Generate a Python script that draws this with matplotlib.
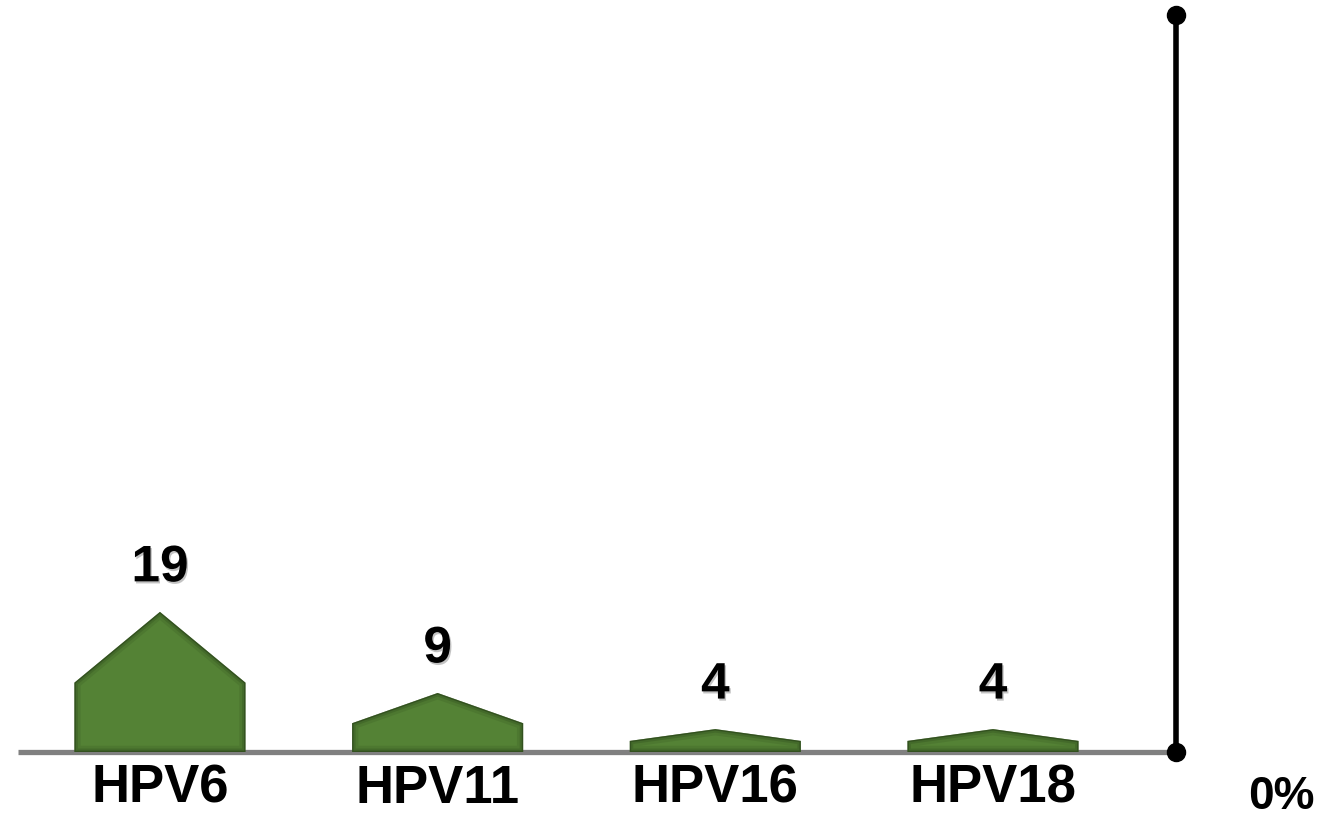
import matplotlib.pyplot as plt
import matplotlib.patheffects as pe

# data
categories = ['HPV6', 'HPV11', 'HPV16', 'HPV18']
value_labels = ['19', '9', '4', '4']
heights = [19.0, 8.0, 3.1, 3.1]      # drawn height of each house-shaped bar (%)
shoulders = [9.4, 3.9, 1.5, 1.5]     # height where the roof starts (%)
axis_label = '0%'
axis_top = 100

fig = plt.figure(figsize=(13.24, 8.17), dpi=100)
ax = fig.add_axes([0, 0, 1, 1])
ax.set_xlim(-0.576, 4.192)
ax.set_ylim(-8.82, 102.0)
ax.axis('off')

green = '#548235'
bar_w = 0.616
axis_x = 3.658

# baseline
ax.plot([-0.511, axis_x], [0, 0], color='#808080', lw=3.8, zorder=1, solid_capstyle='butt')

# house shaped bars
for i, (h, s) in enumerate(zip(heights, shoulders)):
    xl, xr = i - bar_w / 2, i + bar_w / 2
    xs = [xl, xl, i, xr, xr]
    ys = [0, s, h, s, 0]
    poly = ax.fill(xs, ys, color=green, ec='none', zorder=2)[0]
    # soft dark inner edge
    for lw, a in [(9, 0.12), (5, 0.2), (2, 0.45)]:
        rim = ax.fill(xs, ys, fc='none', ec='#1f3312', lw=lw, alpha=a, zorder=2.5)[0]
        rim.set_clip_path(poly)
    ax.annotate(value_labels[i], (i, h), xytext=(0, 22), textcoords='offset points',
                ha='center', va='baseline', fontsize=37, fontweight='bold',
                family='Liberation Sans', zorder=4,
                path_effects=[pe.withSimplePatchShadow(offset=(1, -1.5), shadow_rgbFace='#888888', alpha=0.5)])
    ax.text(i, -6.88, categories[i], ha='center', va='baseline', fontsize=38,
            fontweight='bold', family='Liberation Sans')

# right vertical axis with dots
ax.plot([axis_x, axis_x], [0, axis_top], color='black', lw=4, zorder=3)
ax.plot([axis_x, axis_x], [0, axis_top], 'o', color='black', ms=13, zorder=3, clip_on=False)
ax.text(axis_x + 0.38, -7.7, axis_label, ha='center', va='baseline', fontsize=33,
        fontweight='bold', family='Liberation Sans')

plt.savefig('out.png', dpi=100)
